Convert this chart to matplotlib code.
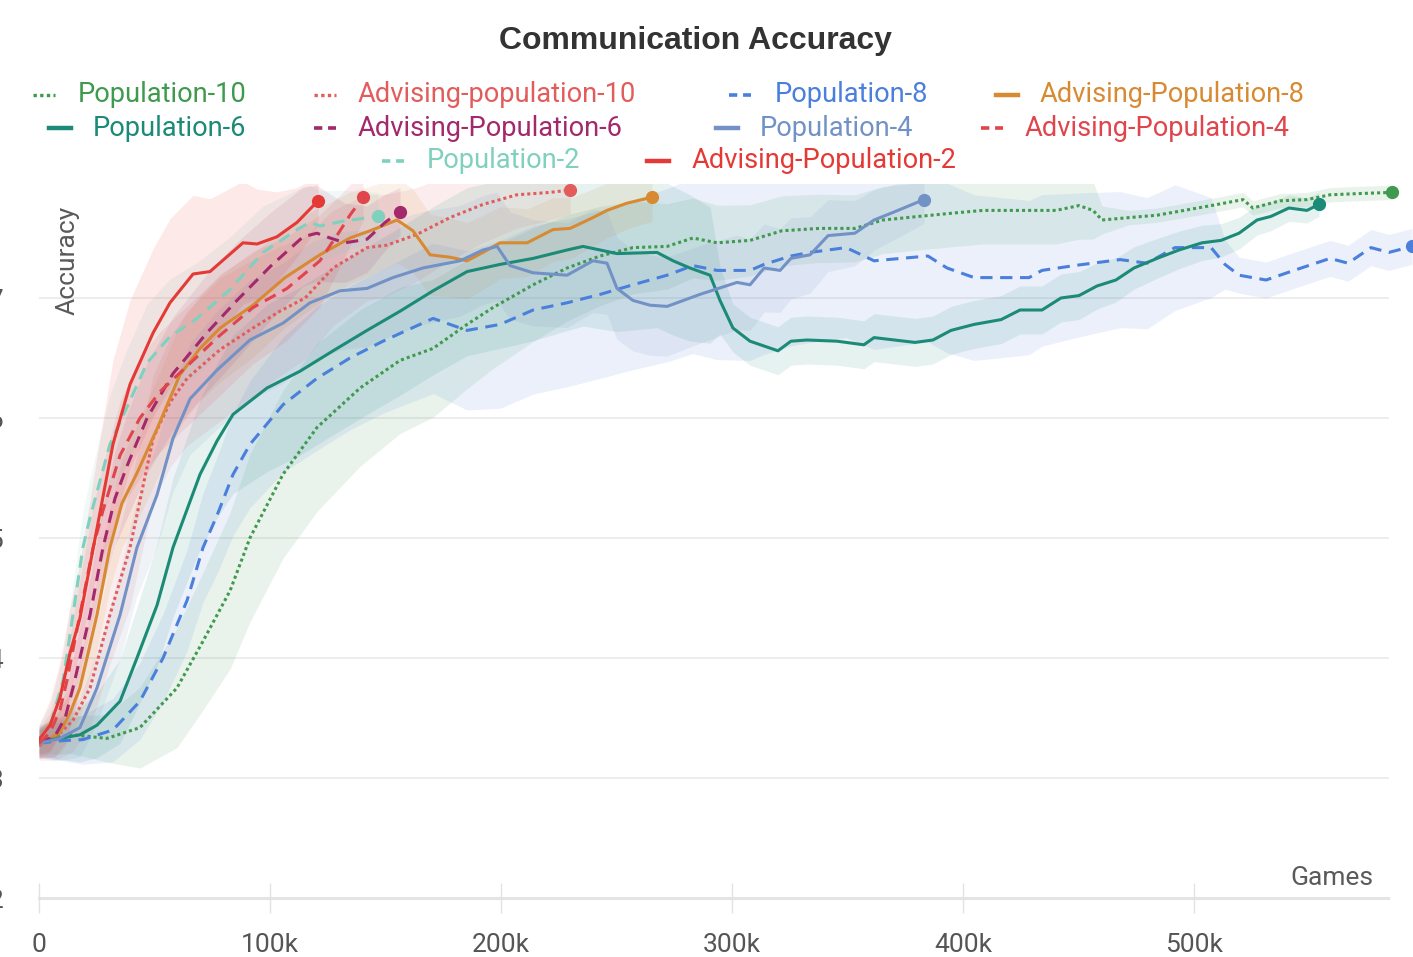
import numpy as np
import matplotlib
matplotlib.use("Agg")
import matplotlib.pyplot as plt
from matplotlib.lines import Line2D

plt.rcParams['font.family'] = ['Roboto', 'DejaVu Sans']

# games are in thousands, accuracy as fraction
pop10_x = [0, 14.7, 29.4, 43.7, 59.7, 71.0, 82.7, 91.3, 105.6, 120.3, 139.0, 156.3, 170.6, 185.3, 196.5, 213.9,
           228.6, 242.9, 257.1, 271.9, 283.1, 293.5, 307.8, 321.6, 337.7, 353.2, 365.4, 381.0, 397.0, 408.7, 424.7,
           440.3, 450.2, 456.3, 460.2, 471.9, 484.0, 495.7, 507.4, 521.2, 525.5, 537.2, 548.9, 558.9, 571.0, 585.7]
pop10_y = [0.332, 0.336, 0.333, 0.342, 0.375, 0.414, 0.456, 0.500, 0.553, 0.592, 0.625, 0.648, 0.658, 0.678, 0.692,
           0.711, 0.725, 0.735, 0.742, 0.743, 0.750, 0.746, 0.748, 0.756, 0.758, 0.758, 0.765, 0.768, 0.771, 0.773,
           0.773, 0.773, 0.777, 0.773, 0.765, 0.767, 0.769, 0.773, 0.777, 0.782, 0.775, 0.781, 0.782, 0.786, 0.787, 0.788]

adv10_x = [0, 6.9, 14.7, 22.1, 30.7, 39.4, 49.4, 56.7, 64.1, 78.4, 92.6, 104.3, 115.2, 127.3, 142.0, 150.6,
           163.6, 177.9, 192.2, 206.9, 221.2, 229.9]
adv10_y = [0.327, 0.333, 0.348, 0.375, 0.436, 0.492, 0.583, 0.613, 0.633, 0.657, 0.675, 0.689, 0.700, 0.725,
           0.742, 0.744, 0.753, 0.767, 0.778, 0.786, 0.788, 0.790]

pop8_x = [0, 9.1, 19.0, 32.0, 43.7, 53.7, 64.1, 71.0, 77.1, 84.0, 91.3, 105.6, 120.3, 134.6, 148.9, 170.6, 177.9,
          185.3, 199.6, 213.9, 228.6, 242.9, 257.1, 271.9, 283.1, 293.5, 307.8, 313.9, 325.5, 333.8, 349.4, 361.5,
          384.8, 393.1, 404.8, 428.6, 434.2, 448.1, 468.0, 479.7, 491.8, 507.4, 513.4, 519.5, 531.2, 543.3, 551.1,
          558.9, 566.7, 576.6, 584.4, 594.4]
pop8_y = [0.329, 0.331, 0.332, 0.340, 0.364, 0.400, 0.448, 0.492, 0.519, 0.553, 0.578, 0.611, 0.633, 0.650, 0.664,
          0.683, 0.678, 0.673, 0.678, 0.690, 0.696, 0.703, 0.711, 0.719, 0.727, 0.723, 0.723, 0.728, 0.735, 0.738,
          0.742, 0.731, 0.735, 0.725, 0.717, 0.717, 0.723, 0.727, 0.732, 0.729, 0.742, 0.742, 0.728, 0.719, 0.715,
          0.723, 0.728, 0.733, 0.729, 0.742, 0.738, 0.743]

adv8_x = [0, 9.1, 13.4, 17.7, 25.1, 30.7, 35.9, 42.4, 51.1, 61.0, 69.7, 78.4, 92.6, 106.5, 121.6, 134.6, 143.3,
          155.0, 161.9, 169.3, 177.9, 185.3, 192.2, 199.6, 211.3, 222.5, 229.9, 239.8, 245.9, 254.5, 265.4]
adv8_y = [0.328, 0.338, 0.354, 0.375, 0.436, 0.492, 0.529, 0.554, 0.591, 0.636, 0.658, 0.675, 0.694, 0.717, 0.736,
          0.750, 0.756, 0.765, 0.756, 0.736, 0.734, 0.731, 0.738, 0.746, 0.746, 0.757, 0.758, 0.767, 0.773, 0.779, 0.784]

pop6_x = [0, 9.1, 17.7, 25.1, 35.1, 42.4, 51.1, 58.0, 69.7, 77.1, 84.0, 98.7, 113.0, 127.3, 142.0, 156.3, 170.6,
          185.3, 199.6, 213.9, 228.6, 235.5, 242.9, 250.2, 267.5, 274.5, 281.8, 290.5, 294.8, 300.4, 307.8, 319.9,
          325.5, 332.5, 345.5, 357.1, 361.5, 379.2, 387.0, 394.8, 404.8, 416.5, 424.7, 434.2, 442.4, 450.2, 458.0,
          466.2, 474.0, 484.0, 493.5, 503.5, 511.7, 519.5, 527.3, 533.3, 541.1, 548.9, 554.1]
pop6_y = [0.331, 0.333, 0.336, 0.344, 0.364, 0.400, 0.444, 0.492, 0.553, 0.581, 0.603, 0.625, 0.639, 0.656, 0.673,
          0.689, 0.706, 0.722, 0.728, 0.733, 0.740, 0.743, 0.740, 0.737, 0.738, 0.731, 0.725, 0.719, 0.698, 0.675,
          0.664, 0.656, 0.664, 0.665, 0.664, 0.661, 0.667, 0.663, 0.665, 0.673, 0.678, 0.682, 0.690, 0.690, 0.700,
          0.702, 0.710, 0.715, 0.725, 0.733, 0.740, 0.746, 0.748, 0.754, 0.765, 0.768, 0.775, 0.773, 0.778]

adv6_x = [0, 6.9, 11.3, 14.7, 22.1, 27.7, 32.9, 38.1, 46.8, 58.0, 72.7, 85.7, 100, 114.3, 120.3, 126.0, 132.5,
          142.0, 149.8, 156.3]
adv6_y = [0.329, 0.335, 0.350, 0.375, 0.436, 0.492, 0.533, 0.560, 0.600, 0.637, 0.671, 0.698, 0.726, 0.751,
          0.754, 0.750, 0.746, 0.749, 0.763, 0.772]

pop4_x = [0, 9.1, 17.7, 25.1, 35.1, 42.4, 51.1, 58.0, 65.4, 77.1, 91.3, 105.6, 117.3, 130.3, 142.0, 153.2, 166.2,
          182.3, 192.2, 198.3, 203.9, 213.9, 228.6, 239.8, 245.9, 250.2, 257.1, 264.5, 271.9, 286.1, 302.2, 307.8,
          313.9, 320.8, 325.5, 333.8, 341.6, 353.2, 361.5, 369.3, 383.1]
pop4_y = [0.329, 0.333, 0.342, 0.375, 0.436, 0.492, 0.536, 0.583, 0.616, 0.640, 0.665, 0.679, 0.696, 0.706, 0.708,
          0.717, 0.725, 0.731, 0.740, 0.743, 0.727, 0.721, 0.719, 0.731, 0.729, 0.708, 0.698, 0.694, 0.693, 0.703,
          0.713, 0.711, 0.725, 0.723, 0.733, 0.736, 0.752, 0.754, 0.765, 0.771, 0.782]

adv4_x = [0, 4.8, 9.1, 12.1, 17.7, 23.4, 27.7, 35.1, 43.7, 52.4, 62.3, 78.4, 92.6, 107.4, 121.6, 130.3, 134.6, 140.3]
adv4_y = [0.329, 0.338, 0.357, 0.381, 0.436, 0.492, 0.523, 0.569, 0.600, 0.622, 0.640, 0.669, 0.692, 0.708, 0.731,
          0.756, 0.769, 0.784]

pop2_x = [0, 4.8, 10.4, 14.7, 19.0, 22.1, 30.7, 38.1, 46.8, 56.7, 68.4, 82.7, 97.0, 111.7, 117.3, 121.6, 131.6, 146.8]
pop2_y = [0.332, 0.344, 0.381, 0.436, 0.492, 0.517, 0.578, 0.609, 0.646, 0.668, 0.683, 0.707, 0.738, 0.757, 0.763,
          0.760, 0.764, 0.768]

adv2_x = [0, 4.8, 9.1, 13.4, 17.7, 25.1, 32.0, 39.4, 49.4, 56.7, 66.7, 74.0, 88.3, 94.4, 103.0, 111.7, 120.8]
adv2_y = [0.332, 0.344, 0.367, 0.404, 0.433, 0.508, 0.578, 0.628, 0.671, 0.696, 0.720, 0.722, 0.746, 0.745, 0.751,
          0.763, 0.781]

# spread of the shaded band (half width) at a few points
pop10_sx = [0, 30, 60, 90, 120, 160, 200, 250, 300, 350, 400, 455, 462, 586]
pop10_s = [0.012, 0.02, 0.05, 0.07, 0.07, 0.06, 0.05, 0.04, 0.03, 0.028, 0.028, 0.028, 0.006, 0.006]
adv10_sx = [0, 40, 80, 120, 160, 200, 230]
adv10_s = [0.012, 0.05, 0.06, 0.05, 0.04, 0.03, 0.02]
pop8_sx = [0, 40, 80, 120, 160, 200, 250, 300, 350, 400, 450, 505, 515, 595]
pop8_s = [0.012, 0.03, 0.05, 0.06, 0.06, 0.07, 0.07, 0.075, 0.075, 0.07, 0.06, 0.05, 0.015, 0.015]
adv8_sx = [0, 40, 80, 120, 160, 200, 265]
adv8_s = [0.012, 0.04, 0.045, 0.04, 0.035, 0.03, 0.02]
pop6_sx = [0, 30, 60, 100, 150, 200, 250, 290, 296, 350, 400, 450, 500, 554]
pop6_s = [0.012, 0.03, 0.06, 0.07, 0.07, 0.07, 0.065, 0.06, 0.02, 0.02, 0.02, 0.02, 0.015, 0.01]
adv6_sx = [0, 40, 80, 120, 156]
adv6_s = [0.012, 0.045, 0.05, 0.04, 0.02]
pop4_sx = [0, 40, 80, 120, 200, 300, 383]
pop4_s = [0.012, 0.04, 0.05, 0.05, 0.045, 0.04, 0.02]
adv4_sx = [0, 40, 80, 120, 140]
adv4_s = [0.012, 0.05, 0.05, 0.04, 0.02]
pop2_sx = [0, 40, 80, 120, 147]
pop2_s = [0.012, 0.05, 0.045, 0.03, 0.02]
adv2_sx = [0, 30, 60, 90, 121]
adv2_s = [0.012, 0.07, 0.07, 0.05, 0.02]

dot = (0, (1, 1))
dash = (0, (4, 2.5))
series = [
    ('Population-10', pop10_x, pop10_y, pop10_sx, pop10_s, '#3f9a4e', dot),
    ('Advising-population-10', adv10_x, adv10_y, adv10_sx, adv10_s, '#e35c5c', dot),
    ('Population-8', pop8_x, pop8_y, pop8_sx, pop8_s, '#4a7fdc', dash),
    ('Advising-Population-8', adv8_x, adv8_y, adv8_sx, adv8_s, '#d88a32', '-'),
    ('Population-6', pop6_x, pop6_y, pop6_sx, pop6_s, '#1b8a76', '-'),
    ('Advising-Population-6', adv6_x, adv6_y, adv6_sx, adv6_s, '#a3286c', dash),
    ('Population-4', pop4_x, pop4_y, pop4_sx, pop4_s, '#7292c6', '-'),
    ('Advising-Population-4', adv4_x, adv4_y, adv4_sx, adv4_s, '#e0444c', dash),
    ('Population-2', pop2_x, pop2_y, pop2_sx, pop2_s, '#7fd0bf', dash),
    ('Advising-Population-2', adv2_x, adv2_y, adv2_sx, adv2_s, '#e53935', '-'),
]

W, H = 1413, 957
fig = plt.figure(figsize=(W / 100, H / 100), dpi=100)
ax = fig.add_axes([39 / W, (H - 898) / H, (W - 39) / W, (898 - 184) / H])
ax.set_xlim(0, (W - 39) / 2.31)
ax.set_ylim(0.2, 0.2 + (898 - 184) / 1200)

for v in [0.3, 0.4, 0.5, 0.6, 0.7]:
    ax.axhline(v, xmax=(1388 - 39) / (W - 39), color='#ececec', lw=1.3, zorder=0)
ax.axhline(0.2, xmax=(1388 - 39) / (W - 39), color='#e4e4e4', lw=2.2, zorder=0, clip_on=False)

for name, x, y, sx, s, c, ls in series:
    x = np.array(x)
    y = np.array(y)
    half = np.interp(x, sx, s)
    ax.fill_between(x, y - half, y + half, color=c, alpha=0.11, lw=0, zorder=1)

for name, x, y, sx, s, c, ls in series:
    ax.plot(x, y, color=c, linestyle=ls, lw=2.2, zorder=3)
    ax.plot(x[-1], y[-1], 'o', color=c, ms=8.5, zorder=4)

for sp in ax.spines.values():
    sp.set_visible(False)

ax.set_xticks([0, 100, 200, 300, 400, 500])
ax.set_xticklabels(['0', '100k', '200k', '300k', '400k', '500k'])
ax.set_yticks([0.2, 0.3, 0.4, 0.5, 0.6, 0.7])
ax.set_yticklabels(['0.2', '0.3', '0.4', '0.5', '0.6', '0.7'])
ax.tick_params(axis='x', direction='inout', length=22, width=1, color='#e2e2e2',
               labelsize=19, labelcolor='#555555', pad=14)
ax.tick_params(axis='y', length=0, labelsize=19, labelcolor='#555555', pad=25)

fig.text(68 / W, 1 - 260 / H, 'Accuracy', rotation=90, ha='center', va='center', fontsize=19, color='#5a5a5a')
fig.text(1373 / W, 1 - 878 / H, 'Games', ha='right', va='center', fontsize=19, color='#5a5a5a')
fig.text(695 / W, 1 - 41 / H, 'Communication Accuracy', ha='center', va='center', fontsize=23,
         fontweight='bold', color='#333333', family=['Liberation Sans', 'DejaVu Sans'])

# legend laid out like the original: (handle centre x, text x, row y)
legend_pos = [(44, 78, 93), (325, 358, 93), (740, 775, 93), (1007, 1040, 93),
              (60, 93, 126), (325, 358, 126), (727, 760, 126), (992, 1025, 126),
              (393, 427, 159), (658, 692, 159)]
for (name, x, y, sx, s, c, ls), (hx, tx, ty) in zip(series, legend_pos):
    yy = 1 - (ty + 2) / H
    if ls == '-':
        hs, lw = '-', 3.2
    elif ls == dot:
        hs, lw = (0, (1, 1)), 2.4
    else:
        hs, lw = (0, (2.3, 1.6)), 2.6
    fig.add_artist(Line2D([(hx - 11) / W, (hx + 11) / W], [yy, yy], transform=fig.transFigure,
                          color=c, linestyle=hs, lw=lw))
    fig.text(tx / W, yy, name, ha='left', va='center', fontsize=19.6, color=c)

fig.savefig('out.png', dpi=100)
